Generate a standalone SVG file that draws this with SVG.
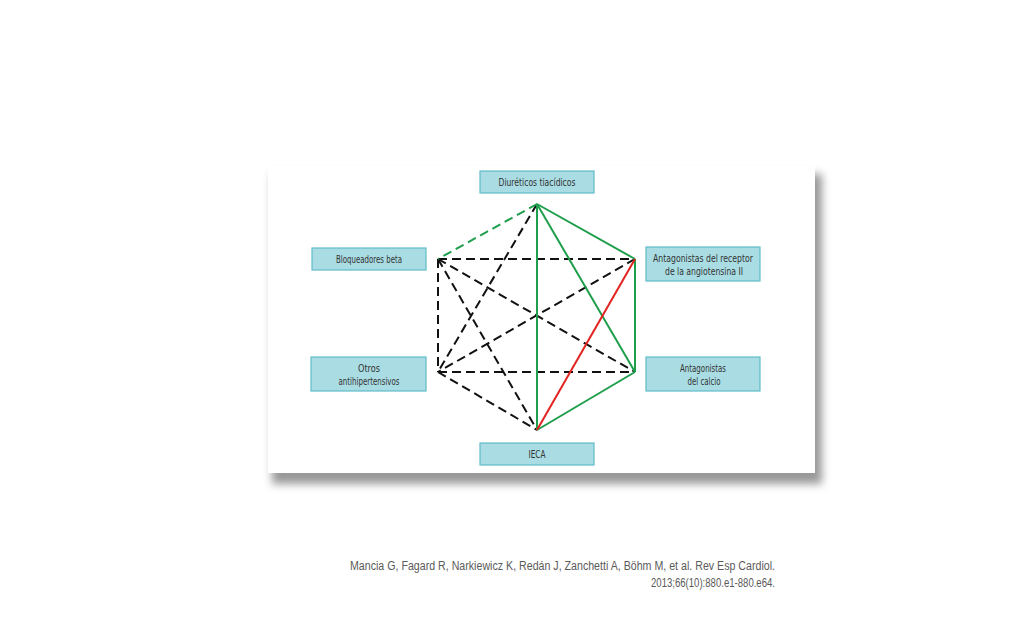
<svg xmlns="http://www.w3.org/2000/svg" width="1024" height="640" viewBox="0 0 1024 640">
<defs>
<filter id="sh" x="-10%" y="-10%" width="125%" height="130%">
<feGaussianBlur stdDeviation="4"/>
</filter>
</defs>
<style>
.box{fill:#a9dde3;stroke:#62bcc8;stroke-width:1.2}
.lbl{font-family:"DejaVu Sans Condensed","Liberation Sans",sans-serif;font-stretch:condensed;font-size:10.5px;fill:#333;text-anchor:middle}
.g{stroke:#1f9e4c;stroke-width:2;fill:none}
.r{stroke:#e3231f;stroke-width:2;fill:none}
.d{stroke:#111;stroke-width:2;fill:none;stroke-dasharray:9 5}
.gd{stroke:#1f9e4c;stroke-width:2;fill:none;stroke-dasharray:9 5}
.cite{font-family:"Liberation Sans",sans-serif;font-size:12.5px;fill:#5a5a5a;text-anchor:end}
</style>
<rect width="1024" height="640" fill="#fff"/>
<rect x="272" y="174" width="550" height="310" fill="#999" filter="url(#sh)"/>
<rect x="268" y="166" width="547" height="307" fill="#fff"/>
<g id="connectors">
<line class="d" x1="438" y1="259" x2="635" y2="259"/>
<line class="d" x1="438" y1="259" x2="438" y2="372"/>
<line class="d" x1="438" y1="259" x2="635" y2="372"/>
<line class="d" x1="438" y1="259" x2="537" y2="430"/>
<line class="d" x1="537" y1="204" x2="438" y2="372"/>
<line class="d" x1="635" y1="259" x2="438" y2="372"/>
<line class="d" x1="438" y1="372" x2="635" y2="372"/>
<line class="d" x1="438" y1="372" x2="537" y2="430"/>
<line class="gd" x1="537" y1="204" x2="438" y2="259"/>
<line class="g" x1="537" y1="204" x2="537" y2="430"/>
<line class="g" x1="537" y1="204" x2="635" y2="259"/>
<line class="g" x1="537" y1="204" x2="635" y2="372"/>
<line class="g" x1="635" y1="259" x2="635" y2="372"/>
<line class="g" x1="635" y1="372" x2="537" y2="430"/>
<line class="r" x1="635" y1="259" x2="537" y2="430"/>
</g>
<g id="diureticos">
<rect class="box" x="480" y="171" width="114" height="22"/>
<text class="lbl" x="537" y="186" textLength="77" lengthAdjust="spacingAndGlyphs">Diuréticos tiacídicos</text>
</g>
<g id="bloqueadores">
<rect class="box" x="312" y="248" width="114" height="22"/>
<text class="lbl" x="369" y="263" textLength="66" lengthAdjust="spacingAndGlyphs">Bloqueadores beta</text>
</g>
<g id="ara2">
<rect class="box" x="646" y="247" width="114" height="34"/>
<text class="lbl" x="703" y="261.5" textLength="100" lengthAdjust="spacingAndGlyphs">Antagonistas del receptor</text>
<text class="lbl" x="704" y="275" textLength="78" lengthAdjust="spacingAndGlyphs">de la angiotensina II</text>
</g>
<g id="otros">
<rect class="box" x="311" y="357" width="115" height="34"/>
<text class="lbl" x="369" y="371.5" textLength="22" lengthAdjust="spacingAndGlyphs">Otros</text>
<text class="lbl" x="369" y="385" textLength="61" lengthAdjust="spacingAndGlyphs">antihipertensivos</text>
</g>
<g id="calcio">
<rect class="box" x="646" y="357" width="114" height="34"/>
<text class="lbl" x="703" y="371.5" textLength="46" lengthAdjust="spacingAndGlyphs">Antagonistas</text>
<text class="lbl" x="704" y="385" textLength="33" lengthAdjust="spacingAndGlyphs">del calcio</text>
</g>
<g id="ieca">
<rect class="box" x="480" y="443" width="114" height="22"/>
<text class="lbl" x="537" y="458" textLength="17" lengthAdjust="spacingAndGlyphs">IECA</text>
</g>
<text class="cite" x="775" y="570" textLength="425" lengthAdjust="spacingAndGlyphs">Mancia G, Fagard R, Narkiewicz K, Redán J, Zanchetti A, Böhm M, et al. Rev Esp Cardiol.</text>
<text class="cite" x="775" y="587" textLength="124" lengthAdjust="spacingAndGlyphs">2013;66(10):880.e1-880.e64.</text>
</svg>
